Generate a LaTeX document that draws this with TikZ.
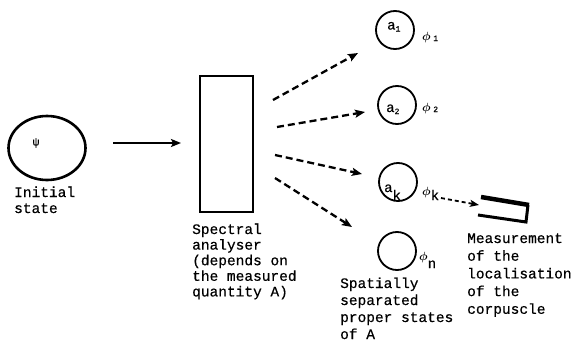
\documentclass[tikz,border=0pt]{standalone}
\usepackage{amsmath}
\usepackage{fontspec}
\setmainfont{Liberation Mono}[FakeBold=0.45]
\usetikzlibrary{arrows.meta,shapes.geometric}
\newcommand\lowsub[2][2pt]{\raisebox{-#1}{\fontsize{8}{8}\selectfont #2}}
\newcommand\phisign{$\boldsymbol{\phi}$}
\begin{document}
\begin{tikzpicture}[x=1pt,y=-1pt,
 txt/.style={anchor=base west, inner sep=0pt},
 sym/.style={font=\fontsize{14}{14}\selectfont, anchor=base west, inner sep=0pt},
 phisym/.style={font=\fontsize{11.5}{11.5}\selectfont, anchor=base west, inner sep=0pt},
 state/.style={draw, circle, line width=1.8pt, minimum size=38pt, inner sep=0pt},
 darrow/.style={line width=2.3pt, dash pattern=on 7pt off 4pt, -{Stealth[length=10pt,width=8pt,inset=2pt]}},
 sarrow/.style={line width=1.8pt, dash pattern=on 4pt off 3pt, -{Stealth[length=9pt,width=7pt,inset=2pt]}},
]
\useasboundingbox (0,0) rectangle (574,343);
% initial state
\node[draw, ellipse, line width=2.6pt, minimum width=77pt, minimum height=64pt, inner sep=0pt] (init) at (47,148) {};
\node[inner sep=0pt, font=\fontsize{11}{11}\selectfont] (psi) at (36,143) {ψ};
\node[txt, font=\fontsize{14.5}{16}\selectfont] (linit) at (14,197) {\vtop{\hbox{Initial}\hbox{state}}};
% main arrow
\coordinate (m0) at (113,143);
\coordinate (m1) at (181,143);
\draw[line width=2pt, -{Stealth[length=10pt,width=8pt,inset=2pt]}] (m0) -- (m1);
% analyser
\node[draw, line width=2pt, minimum width=53pt, minimum height=136pt, inner sep=0pt] (an) at (226.5,144) {};
\node[txt, font=\fontsize{14.5}{15.6}\selectfont] (lan) at (192,234) {\vtop{\hbox{Spectral}\hbox{analyser}\hbox{(depends on}\hbox{the measured}\hbox{quantity A)}}};
% proper states
\node[state] (c1) at (395,30) {};
\node[state] (c2) at (397,105) {};
\node[state] (ck) at (398,182) {};
\node[state] (cn) at (397,251) {};
\node[sym] (a1) at (387,29.5) {a\lowsub{1}};
\node[sym] (a2) at (386,112) {a\lowsub{2}};
\node[sym] (ak) at (384,192) {a\raisebox{-8pt}{k}};
\node[phisym] (p1) at (422,40) {\phisign\hspace{2.5pt}\lowsub[1pt]{1}};
\node[phisym] (p2) at (422,111) {\phisign\hspace{2.5pt}\lowsub[1pt]{2}};
\node[phisym] (pk) at (422,195) {\phisign\raisebox{-5pt}{\fontsize{14}{14}\selectfont k}};
\node[phisym] (pn) at (419,260) {\phisign\raisebox{-8pt}{\fontsize{14}{14}\selectfont n}};
% dashed arrows
\coordinate (s1) at (273,100); \coordinate (e1) at (358,53);
\coordinate (s2) at (277,127); \coordinate (e2) at (365,112);
\coordinate (s3) at (275,155); \coordinate (e3) at (362,174);
\coordinate (s4) at (275,178); \coordinate (e4) at (352,227);
\draw[darrow] (s1) -- (e1);
\draw[darrow] (s2) -- (e2);
\draw[darrow] (s3) -- (e3);
\draw[darrow] (s4) -- (e4);
% detector
\coordinate (ds) at (441,198);
\coordinate (det) at (479,205);
\draw[sarrow] (ds) -- (det);
\draw[line width=3pt, line join=miter] (528,205) -- (526,222) -- (478,215);
\draw[line width=4.5pt] (481,197) -- (529,205);
% labels
\node[txt, font=\fontsize{14.5}{17}\selectfont] (lsp) at (340,288) {\vtop{\hbox{Spatially}\hbox{separated}\hbox{proper states}\hbox{of A}}};
\node[txt, font=\fontsize{14.5}{17.7}\selectfont] (lme) at (467,243) {\vtop{\hbox{Measurement}\hbox{of the}\hbox{localisation}\hbox{of the}\hbox{corpuscle}}};
\end{tikzpicture}
\end{document}
